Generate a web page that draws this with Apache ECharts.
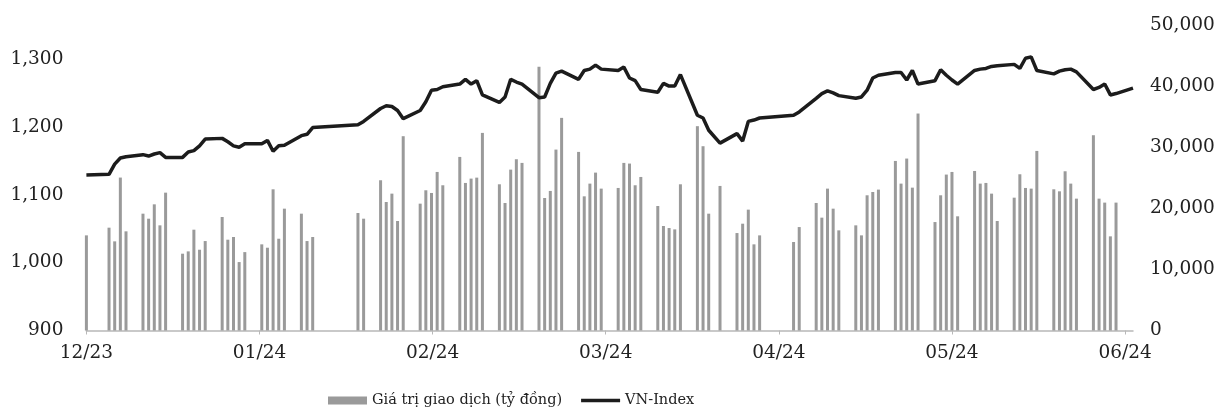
<!DOCTYPE html>
<html>
<head>
<meta charset="utf-8">
<script src="https://cdn.jsdelivr.net/npm/echarts@6/dist/echarts.min.js"></script>
<style>
html,body{margin:0;padding:0;background:#fff;}
#chart{width:1221px;height:417px;}
</style>
</head>
<body>
<div id="chart"></div>
<script>
// Trading dates (Dec 29, 2023 .. Jul 1, 2024)
const dates = [
 '2023-12-29',
 '2024-01-02','2024-01-03','2024-01-04','2024-01-05',
 '2024-01-08','2024-01-09','2024-01-10','2024-01-11','2024-01-12',
 '2024-01-15','2024-01-16','2024-01-17','2024-01-18','2024-01-19',
 '2024-01-22','2024-01-23','2024-01-24','2024-01-25','2024-01-26',
 '2024-01-29','2024-01-30','2024-01-31','2024-02-01','2024-02-02',
 '2024-02-05','2024-02-06','2024-02-07',
 '2024-02-15','2024-02-16',
 '2024-02-19','2024-02-20','2024-02-21','2024-02-22','2024-02-23',
 '2024-02-26','2024-02-27','2024-02-28','2024-02-29','2024-03-01',
 '2024-03-04','2024-03-05','2024-03-06','2024-03-07','2024-03-08',
 '2024-03-11','2024-03-12','2024-03-13','2024-03-14','2024-03-15',
 '2024-03-18','2024-03-19','2024-03-20','2024-03-21','2024-03-22',
 '2024-03-25','2024-03-26','2024-03-27','2024-03-28','2024-03-29',
 '2024-04-01','2024-04-02','2024-04-03','2024-04-04','2024-04-05',
 '2024-04-08','2024-04-09','2024-04-10','2024-04-11','2024-04-12',
 '2024-04-15','2024-04-16','2024-04-17','2024-04-19',
 '2024-04-22','2024-04-23','2024-04-24','2024-04-25','2024-04-26',
 '2024-05-02','2024-05-03',
 '2024-05-06','2024-05-07','2024-05-08','2024-05-09','2024-05-10',
 '2024-05-13','2024-05-14','2024-05-15','2024-05-16','2024-05-17',
 '2024-05-20','2024-05-21','2024-05-22','2024-05-23','2024-05-24',
 '2024-05-27','2024-05-28','2024-05-29','2024-05-30','2024-05-31',
 '2024-06-03','2024-06-04','2024-06-05','2024-06-06','2024-06-07',
 '2024-06-10','2024-06-11','2024-06-12','2024-06-13','2024-06-14',
 '2024-06-17','2024-06-18','2024-06-19','2024-06-20','2024-06-21',
 '2024-06-24','2024-06-25','2024-06-26','2024-06-27','2024-06-28',
 '2024-07-01'
];

// Giá trị giao dịch (tỷ đồng)
const turnover = [
 15570,
 16830,14590,25030,16230,
 19120,18300,20650,17210,22560,
 12570,12950,16500,13220,14640,
 18580,14860,15300,11200,12830,
 14100,13550,23110,15020,19940,
 19120,14640,15300,
 19230,18300,
 24590,21030,22400,17920,31800,
 20760,22950,22510,25950,23770,
 28410,24150,24860,25020,32340,
 23930,20870,26330,28030,27430,
 43160,21690,22840,29610,34800,
 29230,21960,24040,25840,23220,
 23330,27430,27320,23770,25130,
 20380,17100,16770,16550,23930,
 33440,30160,19120,23660,
 15950,17480,19780,14100,15570,
 14480,16930,
 20870,18470,23220,19940,16390,
 17210,15570,22130,22670,23060,
 27750,24040,28140,23380,35510,
 17750,22130,25520,25950,18690,
 26110,24040,24150,22400,17920,
 21740,25570,23330,23220,29390,
 23110,22780,26060,24040,21580,
 31960,21580,20930,15410,20930,
 null
];

// VN-Index
const vnIndex = [
 1129,
 1130,1145,1154,1156,
 1159,1157,1160,1162,1155,
 1155,1163,1165,1172,1182,
 1183,1178,1172,1170,1175,
 1175,1180,1164,1172,1173,
 1187,1189,1199,
 1203,1208,
 1227,1231,1230,1224,1212,
 1224,1237,1254,1255,1259,
 1263,1270,1263,1268,1247,
 1236,1244,1270,1266,1263,
 1243,1244,1264,1279,1282,
 1270,1283,1285,1291,1285,
 1283,1288,1272,1268,1255,
 1251,1264,1260,1260,1277,
 1217,1213,1195,1176,
 1190,1179,1208,1210,1213,
 1217,1222,
 1242,1249,1253,1250,1246,
 1242,1244,1254,1272,1276,
 1280,1280,1269,1283,1263,
 1268,1284,1276,1269,1263,
 1283,1285,1286,1289,1290,
 1292,1286,1301,1303,1283,
 1278,1282,1284,1285,1281,
 1255,1258,1263,1247,1249,
 1257
];

// x-axis tick labels
const tickLabels = ['12/23','01/24','02/24','03/24','04/24','05/24','06/24'];

const START = Date.UTC(2023, 11, 29);
function dayOffset(s) {
  const p = s.split('-').map(Number);
  return (Date.UTC(p[0], p[1] - 1, p[2]) - START) / 86400000;
}
const days = dates.map(dayOffset);
const barData = days.map((d, i) => [d, turnover[i]]);
const lineData = days.map((d, i) => [d, vnIndex[i]]);

const TICK = 30.6;
const FONT = 'DejaVu Serif';
const TXT = '#222';

const chart = echarts.init(document.getElementById('chart'), null, {renderer: 'canvas'});
chart.setOption({
  animation: false,
  backgroundColor: '#fff',
  grid: {left: 86.4, right: 88, top: 25, bottom: 86.5, containLabel: false},
  legend: {
    left: 328, top: 393, padding: 0,
    itemWidth: 39, itemHeight: 8, itemGap: 19,
    textStyle: {fontFamily: FONT, fontSize: 14.5, color: TXT},
    data: [
      {name: 'Giá trị giao dịch (tỷ đồng)', icon: 'rect'},
      {name: 'VN-Index', icon: 'path://M0,0H40V3.6H0Z'}
    ]
  },
  xAxis: {
    type: 'value',
    min: 0, max: 185, interval: TICK,
    axisLine: {show: true, lineStyle: {color: '#b8b8b8', width: 1.5}},
    axisTick: {show: true, length: 4, lineStyle: {color: '#b8b8b8'}},
    splitLine: {show: false},
    axisLabel: {
      showMaxLabel: false,
      margin: 13,
      fontFamily: FONT, fontSize: 18.5, color: TXT,
      formatter: v => tickLabels[Math.round(v / TICK)] || ''
    }
  },
  yAxis: [
    {
      type: 'value', min: 900, max: 1350, interval: 100,
      axisLine: {show: false}, axisTick: {show: false}, splitLine: {show: false},
      axisLabel: {showMaxLabel: false, margin: 23, fontFamily: FONT, fontSize: 18.5, color: TXT,
        formatter: v => v.toLocaleString('en-US')}
    },
    {
      type: 'value', min: 0, max: 50000, interval: 10000, position: 'right',
      axisLine: {show: false}, axisTick: {show: false}, splitLine: {show: false},
      axisLabel: {margin: 17, fontFamily: FONT, fontSize: 18.5, color: TXT,
        formatter: v => v.toLocaleString('en-US')}
    }
  ],
  series: [
    {
      name: 'Giá trị giao dịch (tỷ đồng)', type: 'bar', yAxisIndex: 1,
      barWidth: 3, itemStyle: {color: '#9a9a9a'},
      data: barData
    },
    {
      name: 'VN-Index', type: 'line', yAxisIndex: 0,
      symbol: 'none', connectNulls: true,
      lineStyle: {color: '#1c1c1c', width: 3.5},
      itemStyle: {color: '#1c1c1c'},
      data: lineData, z: 5
    }
  ]
});
</script>
</body>
</html>
